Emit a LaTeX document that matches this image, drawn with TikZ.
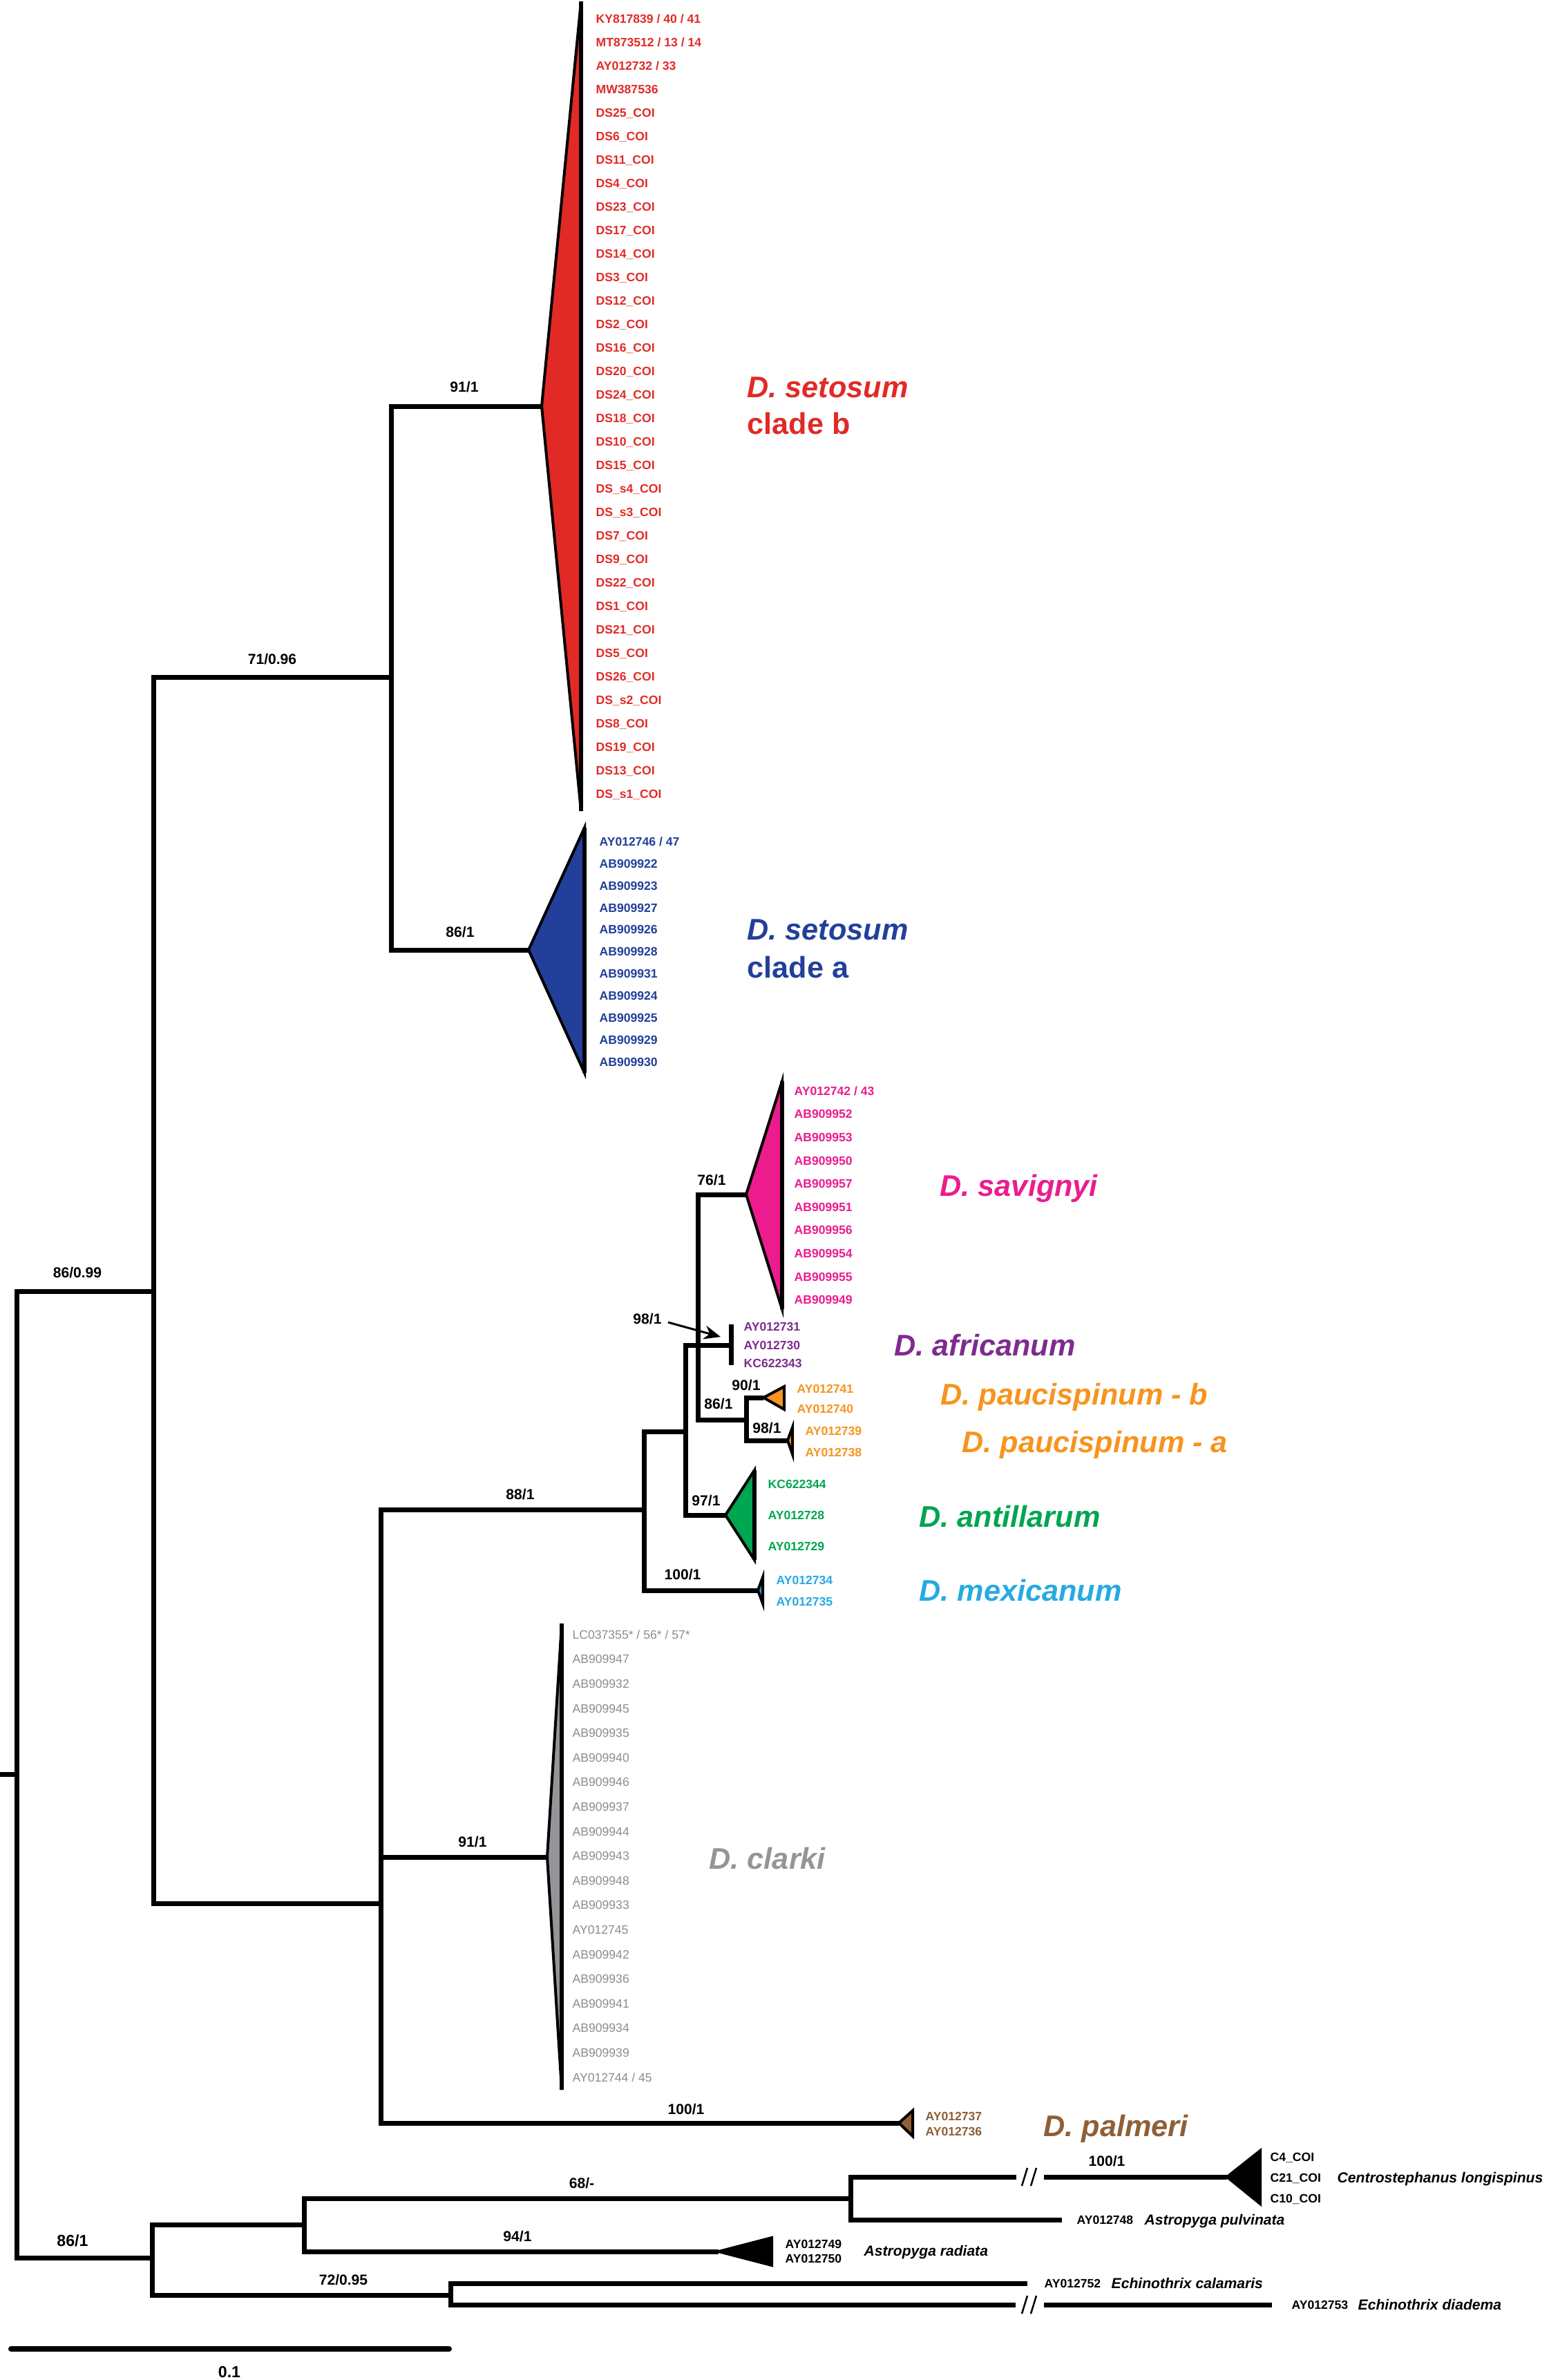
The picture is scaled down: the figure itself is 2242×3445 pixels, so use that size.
\documentclass[tikz,border=0pt]{standalone}
\usepackage{fontspec}
\setmainfont{Liberation Sans}
\usetikzlibrary{arrows.meta}
\definecolor{cred}{HTML}{E12A26}
\definecolor{cblue}{HTML}{22409A}
\definecolor{cmag}{HTML}{EC1C8E}
\definecolor{cpur}{HTML}{7E2B8F}
\definecolor{corg}{HTML}{F7941E}
\definecolor{cgrn}{HTML}{00A551}
\definecolor{clbl}{HTML}{27AAE1}
\definecolor{cgry}{HTML}{939598}
\definecolor{cgtx}{HTML}{8A8C8E}
\definecolor{cbrn}{HTML}{8F5F35}
\begin{document}
\begin{tikzpicture}[x=0.1mm,y=-0.1mm,
  branch/.style={line width=0.7mm, line join=miter},
  cladetri/.style={line width=0.4mm, line join=miter},
  cladeedge/.style={line width=0.55mm},
  spital/.style={font=\bfseries\itshape\fontsize{12.3}{14}\selectfont, inner sep=0, text height=8.8pt, text depth=0pt, anchor=west},
  spupr/.style={font=\bfseries\fontsize{12.3}{14}\selectfont, inner sep=0, text height=8.8pt, text depth=0pt, anchor=west},
  tipb/.style={font=\bfseries\fontsize{5}{6}\selectfont, inner sep=0, text height=3.6pt, text depth=0pt, anchor=west},
  tipr/.style={font=\fontsize{5}{6}\selectfont, inner sep=0, text height=3.6pt, text depth=0pt, anchor=west},
  ogsp/.style={font=\bfseries\itshape\fontsize{6}{7}\selectfont, inner sep=0, text height=4.3pt, text depth=0pt, anchor=west},
  supv/.style={font=\bfseries\fontsize{6}{7}\selectfont, inner sep=0, text height=4.3pt, text depth=0pt},
  supvl/.style={font=\bfseries\fontsize{6.6}{8}\selectfont, inner sep=0, text height=4.7pt, text depth=0pt},
  brkmark/.style={line width=0.25mm}
]
\useasboundingbox (0,0) rectangle (2242,3445);

% ---------- tree skeleton ----------
\coordinate (Rs) at (0,2568);
\coordinate (R) at (24,2568);
\coordinate (A) at (222,1869);
\coordinate (I) at (220,3268);
\draw[branch] (A) -- (R|-A) -- (R|-I) -- (I);
\draw[branch] (Rs) -- (R);

\coordinate (B) at (566,980);
\coordinate (D) at (551,2755);
\draw[branch] (B) -- (A|-B) -- (A|-D) -- (D);

\coordinate (redA) at (784,588);
\coordinate (bluA) at (765,1375);
\draw[branch] (redA) -- (B|-redA) -- (B|-bluA) -- (bluA);

\coordinate (E) at (932,2185);
\coordinate (claA) at (792,2688);
\coordinate (palA) at (1301,3073);
\draw[branch] (E) -- (D|-E) -- (D|-palA) -- (palA);
\draw[branch] (D|-claA) -- (claA);

\coordinate (F) at (992,2072);
\coordinate (mexA) at (1097,2302);
\draw[branch] (F) -- (E|-F) -- (E|-mexA) -- (mexA);

\coordinate (afr) at (1058,1947);
\coordinate (antA) at (1050,2193);
\draw[branch] (afr) -- (F|-afr) -- (F|-antA) -- (antA);

\coordinate (G) at (1010,1947);
\coordinate (savA) at (1080,1729);
\coordinate (H) at (1080,2055);
\draw[branch] (savA) -- (G|-savA) -- (G|-H) -- (H);

\coordinate (pbA) at (1105,2023);
\coordinate (paA) at (1140,2085);
\draw[branch] (pbA) -- (H|-pbA) -- (H|-paA) -- (paA);

\coordinate (afrT) at (1058,1917);
\coordinate (afrB) at (1058,1976);
\draw[branch] (afrT) -- (afrB);

% outgroups
\coordinate (J) at (440,3220);
\coordinate (L) at (652,3322);
\draw[branch] (J) -- (I|-J) -- (I|-L) -- (L);

\coordinate (K) at (1231,3182);
\coordinate (radA) at (1040,3259);
\draw[branch] (K) -- (J|-K) -- (J|-radA) -- (radA);

\coordinate (cenB1) at (1471,3151);
\coordinate (cenB2) at (1511,3151);
\coordinate (cenA) at (1776,3151);
\coordinate (pulE) at (1537,3213);
\draw[branch] (cenB1) -- (K|-cenB1) -- (K|-pulE) -- (pulE);
\draw[branch] (cenB2) -- (cenA);

\coordinate (calE) at (1487,3305);
\coordinate (diaB1) at (1470,3336);
\coordinate (diaB2) at (1511,3336);
\coordinate (diaE) at (1841,3336);
\draw[branch] (calE) -- (L|-calE) -- (L|-diaB1) -- (diaB1);
\draw[branch] (diaB2) -- (diaE);

% break marks
\draw[brkmark] (1479,3164) -- (1487,3138);
\draw[brkmark] (1492,3164) -- (1500,3138);
\draw[brkmark] (1479,3349) -- (1487,3323);
\draw[brkmark] (1492,3349) -- (1500,3323);

% ---------- collapsed clades ----------
\filldraw[cladetri, fill=cred] (redA) -- (841,2) -- (841,1174) -- cycle;
\draw[cladeedge] (841,2) -- (841,1174);
\filldraw[cladetri, fill=cblue] (bluA) -- (846,1198) -- (846,1553) -- cycle;
\draw[cladeedge] (846,1198) -- (846,1553);
\filldraw[cladetri, fill=cmag] (savA) -- (1132,1565) -- (1132,1895) -- cycle;
\draw[cladeedge] (1132,1565) -- (1132,1895);
\filldraw[cladetri, fill=corg] (pbA) -- (1135,2007) -- (1135,2040) -- cycle;
\filldraw[cladetri, fill=corg] (paA) -- (1147,2066) -- (1147,2105) -- cycle;
\filldraw[cladetri, fill=cgrn] (antA) -- (1092,2128) -- (1092,2258) -- cycle;
\draw[cladeedge] (1092,2128) -- (1092,2258);
\filldraw[cladetri, fill=clbl] (mexA) -- (1104,2283) -- (1104,2321) -- cycle;
\filldraw[cladetri, fill=cgry] (claA) -- (813,2350) -- (813,3025) -- cycle;
\draw[cladeedge] (813,2350) -- (813,3025);
\filldraw[cladetri, fill=cbrn] (palA) -- (1321,3055) -- (1321,3092) -- cycle;
\filldraw[cladetri, fill=black] (cenA) -- (1824,3113) -- (1824,3190) -- cycle;
\filldraw[cladetri, fill=black] (radA) -- (1117,3239) -- (1117,3279) -- cycle;

% ---------- tip labels ----------
\foreach \t [count=\i from 0] in {KY817839 / 40 / 41, MT873512 / 13 / 14, AY012732 / 33, MW387536,
  DS25\_COI, DS6\_COI, DS11\_COI, DS4\_COI, DS23\_COI, DS17\_COI, DS14\_COI, DS3\_COI, DS12\_COI,
  DS2\_COI, DS16\_COI, DS20\_COI, DS24\_COI, DS18\_COI, DS10\_COI, DS15\_COI, DS\_s4\_COI, DS\_s3\_COI,
  DS7\_COI, DS9\_COI, DS22\_COI, DS1\_COI, DS21\_COI, DS5\_COI, DS26\_COI, DS\_s2\_COI, DS8\_COI,
  DS19\_COI, DS13\_COI, DS\_s1\_COI}
  \node[tipb, text=cred] (red\i) at (862,{27+34*\i}) {\t};

\foreach \t [count=\i from 0] in {AY012746 / 47, AB909922, AB909923, AB909927, AB909926, AB909928,
  AB909931, AB909924, AB909925, AB909929, AB909930}
  \node[tipb, text=cblue] (blu\i) at (867,{1218+31.9*\i}) {\t};

\foreach \t [count=\i from 0] in {AY012742 / 43, AB909952, AB909953, AB909950, AB909957, AB909951,
  AB909956, AB909954, AB909955, AB909949}
  \node[tipb, text=cmag] (sav\i) at (1149,{1579+33.6*\i}) {\t};

\node[tipb, text=cpur] (afr1) at (1076,1920) {AY012731};
\node[tipb, text=cpur] (afr2) at (1076,1947) {AY012730};
\node[tipb, text=cpur] (afr3) at (1076,1973) {KC622343};

\node[tipb, text=corg] (pb1) at (1153,2010) {AY012741};
\node[tipb, text=corg] (pb2) at (1153,2039) {AY012740};
\node[tipb, text=corg] (pa1) at (1165,2071) {AY012739};
\node[tipb, text=corg] (pa2) at (1165,2102) {AY012738};

\node[tipb, text=cgrn] (ant1) at (1111,2148) {KC622344};
\node[tipb, text=cgrn] (ant2) at (1111,2193) {AY012728};
\node[tipb, text=cgrn] (ant3) at (1111,2238) {AY012729};

\node[tipb, text=clbl] (mex1) at (1123,2287) {AY012734};
\node[tipb, text=clbl] (mex2) at (1123,2318) {AY012735};

\foreach \t [count=\i from 0] in {LC037355* / 56* / 57*, AB909947, AB909932, AB909945, AB909935,
  AB909940, AB909946, AB909937, AB909944, AB909943, AB909948, AB909933, AY012745, AB909942,
  AB909936, AB909941, AB909934, AB909939, AY012744 / 45}
  \node[tipr, text=cgtx] (cla\i) at (828,{2366+35.6*\i}) {\t};

\node[tipb, text=cbrn] (pal1) at (1339,3063) {AY012737};
\node[tipb, text=cbrn] (pal2) at (1339,3085) {AY012736};

\node[tipb] (cen1) at (1838,3122) {C4\_COI};
\node[tipb] (cen2) at (1838,3152) {C21\_COI};
\node[tipb] (cen3) at (1838,3182) {C10\_COI};
\node[ogsp] (cenS) at (1935,3152) {Centrostephanus longispinus};
\node[tipb] (pul1) at (1558,3213) {AY012748};
\node[ogsp] (pulS) at (1656,3213) {Astropyga pulvinata};
\node[tipb] (rad1) at (1136,3248) {AY012749};
\node[tipb] (rad2) at (1136,3269) {AY012750};
\node[ogsp] (radS) at (1250,3258) {Astropyga radiata};
\node[tipb] (cal1) at (1511,3305) {AY012752};
\node[ogsp] (calS) at (1608,3305) {Echinothrix calamaris};
\node[tipb] (dia1) at (1869,3336) {AY012753};
\node[ogsp] (diaS) at (1965,3336) {Echinothrix diadema};

% ---------- species labels ----------
\node[spital, text=cred] (sRb1) at (1081,560) {D. setosum};
\node[spupr, text=cred] (sRb2) at (1081,613) {clade b};
\node[spital, text=cblue] (sBa1) at (1081,1345) {D. setosum};
\node[spupr, text=cblue] (sBa2) at (1081,1400) {clade a};
\node[spital, text=cmag] (sSav) at (1360,1716) {D. savignyi};
\node[spital, text=cpur] (sAfr) at (1294,1947) {D. africanum};
\node[spital, text=corg] (sPb) at (1361,2018) {D. paucispinum - b};
\node[spital, text=corg] (sPa) at (1392,2087) {D. paucispinum - a};
\node[spital, text=cgrn] (sAnt) at (1330,2195) {D. antillarum};
\node[spital, text=clbl] (sMex) at (1330,2302) {D. mexicanum};
\node[spital, text=cgry] (sCla) at (1026,2690) {D. clarki};
\node[spital, text=cbrn] (sPal) at (1510,3077) {D. palmeri};

% ---------- support values ----------
\node[supv] (b1) at (112,1842) {86/0.99};
\node[supv] (b2) at (394,954) {71/0.96};
\node[supv] (b3) at (672,560) {91/1};
\node[supv] (b4) at (666,1349) {86/1};
\node[supv] (b5) at (753,2163) {88/1};
\node[supv] (b6) at (1030,1708) {76/1};
\node[supv] (b7) at (937,1909) {98/1};
\node[supv] (b8) at (1080,2005) {90/1};
\node[supv] (b9) at (1040,2032) {86/1};
\node[supv] (b10) at (1110,2067) {98/1};
\node[supv] (b11) at (1022,2172) {97/1};
\node[supv] (b12) at (988,2279) {100/1};
\node[supv] (b13) at (684,2666) {91/1};
\node[supv] (b14) at (993,3053) {100/1};
\node[supv] (b15) at (842,3160) {68/-};
\node[supv] (b16) at (1602,3128) {100/1};
\node[supv] (b17) at (749,3237) {94/1};
\node[supvl] (b18) at (105,3243) {86/1};
\node[supv] (b19) at (497,3300) {72/0.95};

% arrow for 98/1
\coordinate (arS) at (967,1914);
\coordinate (arE) at (1043,1935);
\draw[line width=0.3mm, -{Stealth[length=2.4mm,width=2mm]}] (arS) -- (arE);

% scale bar
\coordinate (sb1) at (16,3400);
\coordinate (sb2) at (650,3400);
\draw[line width=0.8mm, line cap=round] (sb1) -- (sb2);
\node[supvl] (sbl) at (332,3433) {0.1};
\end{tikzpicture}
\end{document}
